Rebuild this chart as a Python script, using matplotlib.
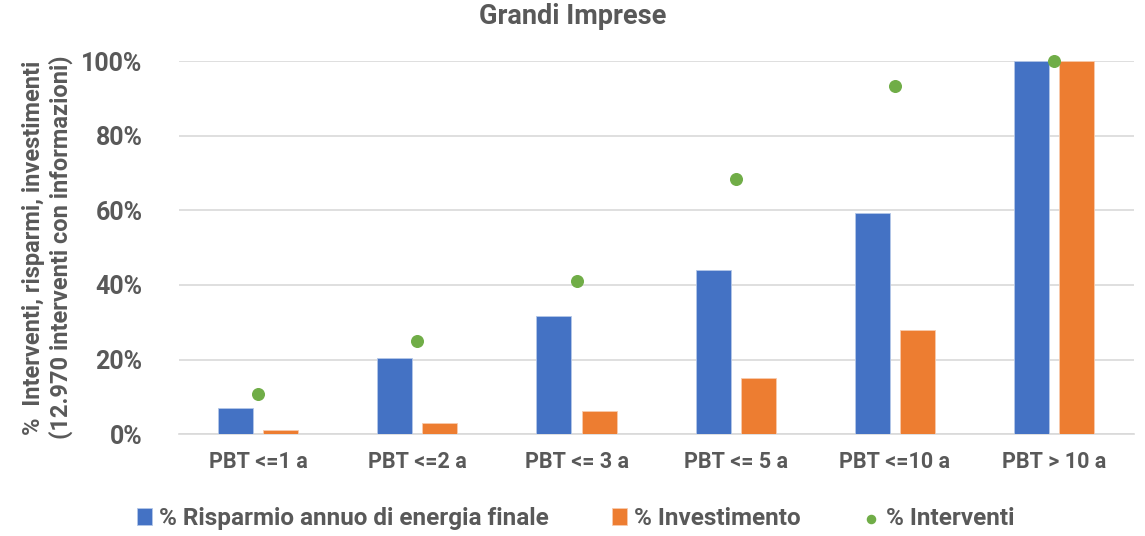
import matplotlib.pyplot as plt
import numpy as np
from matplotlib.ticker import PercentFormatter

categorie = ["PBT <=1 a", "PBT <=2 a", "PBT <= 3 a", "PBT <= 5 a", "PBT <=10 a", "PBT > 10 a"]
risparmio = [7.0, 20.4, 31.6, 44.0, 59.4, 100.0]
investimento = [1.0, 2.9, 6.2, 15.1, 27.8, 100.0]
interventi = [10.7, 24.9, 41.0, 68.5, 93.3, 100.0]

blu = "#4472C4"
arancio = "#ED7D31"
verde = "#70AD47"
grigio = "#595959"

plt.rcParams['font.family'] = ['Roboto', 'DejaVu Sans']
plt.rcParams['font.weight'] = 'bold'

fig = plt.figure(figsize=(11.45, 5.36), dpi=100)
ax = fig.add_axes([0.156, 0.19, 0.834, 0.696])

x = np.arange(len(categorie))
w = 0.22
b1 = ax.bar(x - 0.142, risparmio, w, color=blu, edgecolor="#b4c7e7", linewidth=0.6,
            label="% Risparmio annuo di energia finale", zorder=3)
b2 = ax.bar(x + 0.142, investimento, w, color=arancio, edgecolor="#f8cbad", linewidth=0.6,
            label="% Investimento", zorder=3)
pt = ax.scatter(x, interventi, s=70, color=verde, label="% Interventi", zorder=4, clip_on=False)

ax.set_xlim(-0.5, len(categorie) - 0.5)
ax.set_ylim(0, 100)
ax.set_yticks(np.arange(0, 101, 20))
ax.yaxis.set_major_formatter(PercentFormatter(decimals=0))
ax.set_xticks(x)
ax.set_xticklabels(categorie)
ax.grid(axis="y", color="#d9d9d9", linewidth=1.2, zorder=0)
ax.set_axisbelow(True)
for s in ["top", "right", "left"]:
    ax.spines[s].set_visible(False)
ax.spines["bottom"].set_color("#d9d9d9")
ax.spines["bottom"].set_linewidth(1.2)
ax.tick_params(axis="both", length=0, labelcolor=grigio)
ax.tick_params(axis="y", pad=26, labelsize=18)
ax.tick_params(axis="x", pad=12, labelsize=15.5)
for lab in ax.get_xticklabels() + ax.get_yticklabels():
    lab.set_fontweight("bold")

ax.set_ylabel("%  Interventi, risparmi, investimenti\n(12.970 interventi con informazioni)",
              fontsize=17, color=grigio, fontweight="bold", labelpad=6, linespacing=1.2)
fig.suptitle("Grandi Imprese", fontsize=19.5, color=grigio, fontweight="bold", y=0.995)

leg = fig.legend(handles=[b1, b2, pt], loc="lower center", bbox_to_anchor=(0.503, -0.03), ncol=3,
                 frameon=False, handlelength=0.6, handletextpad=0.3, columnspacing=2.6,
                 markerscale=0.7, prop={"weight": "bold", "size": 17.5})
for t in leg.get_texts():
    t.set_color(grigio)

fig.savefig("out.png", dpi=100)
